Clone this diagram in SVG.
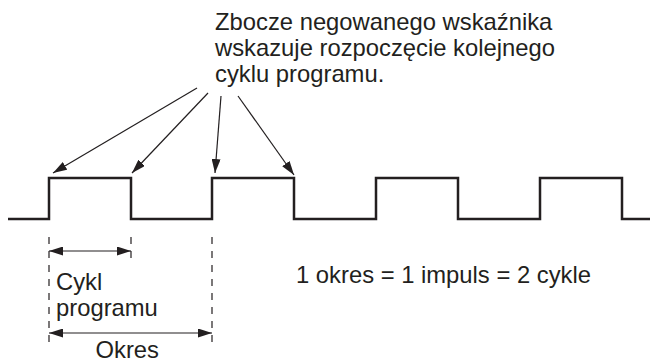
<svg xmlns="http://www.w3.org/2000/svg" width="658" height="361" viewBox="0 0 658 361">
<style>
text{font-family:"Liberation Sans",Arial,sans-serif;font-size:23.8px;fill:#231f20}
.wave{fill:none;stroke:#231f20;stroke-width:2.5;stroke-linejoin:miter}
.arr{fill:none;stroke:#231f20;stroke-width:1.2}
.dash{fill:none;stroke:#231f20;stroke-width:1.2;stroke-dasharray:7,7}
</style>
<defs>
<marker id="ah" viewBox="0 0 14 9" refX="14" refY="4.5" markerWidth="14" markerHeight="9" markerUnits="userSpaceOnUse" orient="auto-start-reverse">
<path d="M0,0 L14,4.5 L0,9 Z" fill="#231f20"/>
</marker>
</defs>
<g id="signal">
<path class="wave" d="M8,219 H49 V178 H131 V219 H212 V178 H294 V219 H376 V178 H458 V219 H540 V178 H622 V219 H650"/>
</g>
<g id="note">
<text x="215" y="29.5">Zbocze negowanego wskaźnika</text>
<text x="215" y="56">wskazuje rozpoczęcie kolejnego</text>
<text x="215" y="82">cyklu programu.</text>
</g>
<g id="formula">
<text x="296" y="283">1 okres = 1 impuls = 2 cykle</text>
</g>
<g id="cykl-label">
<text x="56" y="289.5">Cykl</text>
<text x="56" y="316">programu</text>
</g>
<g id="okres-label">
<text x="95.5" y="357.5">Okres</text>
</g>
<g id="connectors">
<line class="arr" x1="197" y1="88" x2="53" y2="173" marker-end="url(#ah)"/>
<line class="arr" x1="208" y1="93" x2="132" y2="173" marker-end="url(#ah)"/>
<line class="arr" x1="221" y1="96" x2="215" y2="173" marker-end="url(#ah)"/>
<line class="arr" x1="238" y1="96" x2="294" y2="175" marker-end="url(#ah)"/>
<line class="arr" x1="49" y1="251" x2="131" y2="251" marker-start="url(#ah)" marker-end="url(#ah)"/>
<line class="arr" x1="49" y1="333" x2="212" y2="333" marker-start="url(#ah)" marker-end="url(#ah)"/>
<line class="dash" x1="49" y1="237" x2="49" y2="345"/>
<line class="dash" x1="131" y1="237" x2="131" y2="262"/>
<line class="dash" x1="212" y1="237" x2="212" y2="345"/>
</g>
</svg>
